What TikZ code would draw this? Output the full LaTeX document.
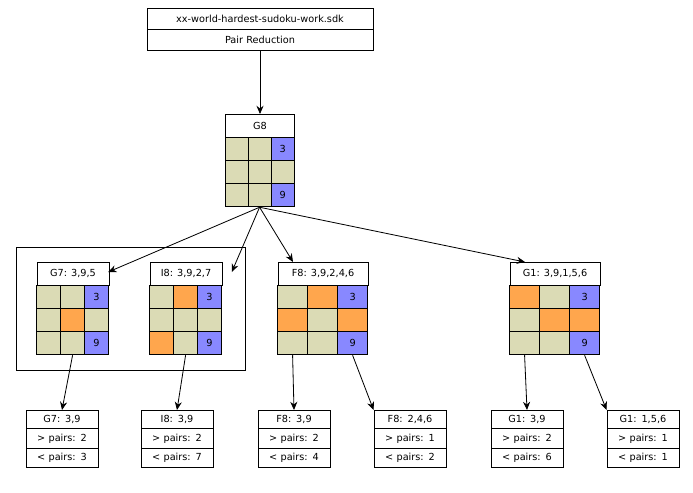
\documentclass[tikz,border=0pt]{standalone}
\usepackage{fontspec}
\setmainfont{DejaVu Sans}
\usepackage{tikz}
\usetikzlibrary{arrows.meta,positioning,shapes.multipart,calc}

\definecolor{khaki}{HTML}{DBDBB5}
\definecolor{cand}{HTML}{FFA64D}
\definecolor{given}{HTML}{8888FF}

% candidate grid: name, x, top y, cell width, title, cells (colour/text)
\newcommand{\candgrid}[6]{%
  \node[gtitle, minimum width=3*#4cm, anchor=north] (#1) at (#2,#3) {#5};
  \foreach \c/\t [count=\i from 0] in {#6} {
    \pgfmathtruncatemacro\r{\i/3}
    \pgfmathtruncatemacro\q{mod(\i,3)}
    \node[cell, fill=\c, minimum width=#4cm] (#1-\i)
      at ($(#1.south west)+({(\q+0.5)*#4 cm},{-(\r+0.5)*0.69 cm})$) {\t};
  }%
}

\begin{document}
\begin{tikzpicture}[x=0.03cm, y=-0.03cm, line width=0.7pt,
  every node/.style={font=\fontsize{8.3}{10}\selectfont, inner sep=1pt},
  gtitle/.style={draw, fill=white, minimum height=0.69cm},
  cell/.style={draw, minimum height=0.69cm},
  info/.style={draw, rectangle split, rectangle split parts=3, fill=white,
    minimum width=2.16cm, text width=1.9cm, align=center, inner ysep=3.9pt},
  arr/.style={-{Stealth[length=7pt,width=6pt]}}
]
\useasboundingbox (0,0) rectangle (693,492);

% input file
\node[draw, rectangle split, rectangle split parts=2, minimum width=6.78cm,
  text width=6.5cm, align=center, inner ysep=5.5pt, anchor=north] (sdk) at (260,8)
  {xx-world-hardest-sudoku-work.sdk\nodepart{two}Pair Reduction};

% grids
\candgrid{G8}{260}{114}{0.69}{G8}{khaki/,khaki/,given/3,khaki/,khaki/,khaki/,khaki/,khaki/,given/9}
\draw (16,247) rectangle (245,370);
\candgrid{G7}{73}{262}{0.72}{G7: 3,9,5}{khaki/,khaki/,given/3,khaki/,cand/,khaki/,khaki/,khaki/,given/9}
\candgrid{I8}{186}{262}{0.72}{I8: 3,9,2,7}{khaki/,cand/,given/3,khaki/,khaki/,khaki/,cand/,khaki/,given/9}
\candgrid{F8}{323}{262}{0.9}{F8: 3,9,2,4,6}{khaki/,cand/,given/3,cand/,khaki/,cand/,khaki/,khaki/,given/9}
\candgrid{G1}{555}{262}{0.9}{G1: 3,9,1,5,6}{cand/,khaki/,given/3,khaki/,cand/,cand/,khaki/,khaki/,given/9}

% pair counts
\node[info, anchor=north] (g7a) at (62,410) {G7: 3,9\nodepart{two}> pairs: 2\nodepart{three}< pairs: 3};
\node[info, anchor=north] (i8a) at (177,410) {I8: 3,9\nodepart{two}> pairs: 2\nodepart{three}< pairs: 7};
\node[info, anchor=north] (f8a) at (294,410) {F8: 3,9\nodepart{two}> pairs: 2\nodepart{three}< pairs: 4};
\node[info, anchor=north] (f8b) at (410,410) {F8: 2,4,6\nodepart{two}> pairs: 1\nodepart{three}< pairs: 2};
\node[info, anchor=north] (g1a) at (527,410) {G1: 3,9\nodepart{two}> pairs: 2\nodepart{three}< pairs: 6};
\node[info, anchor=north] (g1b) at (643,410) {G1: 1,5,6\nodepart{two}> pairs: 1\nodepart{three}< pairs: 1};

\draw[arr] (sdk) -- (G8);
\draw[arr] (G8-7.south) -- ([xshift=-1pt,yshift=-0.3cm]G7.north east);
\draw[arr] (G8-7.south) -- ([xshift=8pt,yshift=-0.3cm]I8.north east);
\draw[arr] (G8-7.south) -- ([xshift=-0.9cm]F8.north);
\draw[arr] (G8-7.south) -- ([xshift=-0.9cm]G1.north);
\draw[arr] (G7-7.south) -- (g7a.north);
\draw[arr] (I8-7.south) -- (i8a.north);
\draw[arr] (F8-6.south) -- (f8a.north);
\draw[arr] (F8-8.south) -- (f8b.north west);
\draw[arr] (G1-6.south) -- (g1a.north);
\draw[arr] (G1-8.south) -- (g1b.north west);
\end{tikzpicture}
\end{document}
